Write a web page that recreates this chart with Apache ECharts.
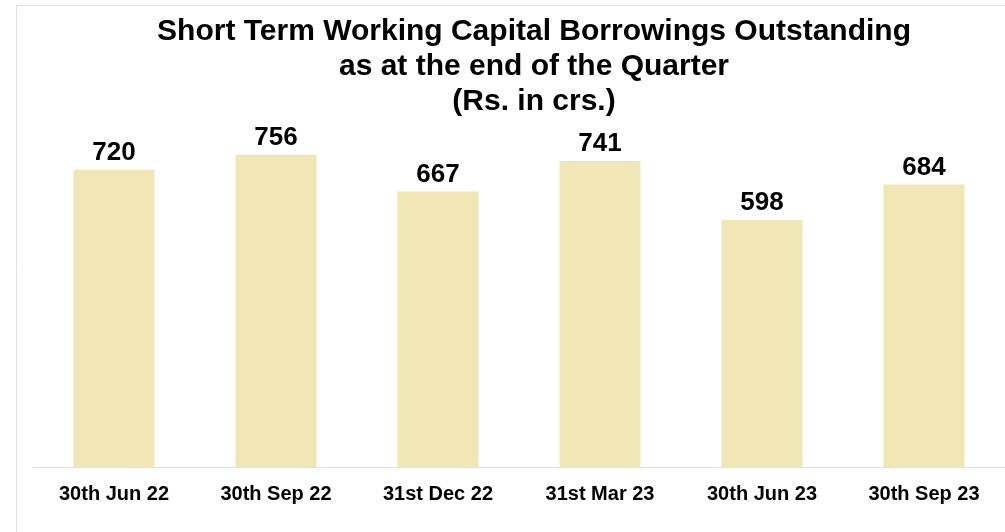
<!DOCTYPE html>
<html>
<head>
<meta charset="utf-8">
<title>Short Term Working Capital Borrowings</title>
<script src="https://cdn.jsdelivr.net/npm/echarts@6/dist/echarts.min.js"></script>
<style>
  html, body { margin: 0; padding: 0; background: #fff; }
  #chart { width: 1005px; height: 532px; }
</style>
</head>
<body>
<div id="chart"></div>
<script>
const quarters = ["30th Jun 22", "30th Sep 22", "31st Dec 22", "31st Mar 23", "30th Jun 23", "30th Sep 23"];
const borrowings = [720, 756, 667, 741, 598, 684];
const titleLines = [
  "Short Term Working Capital Borrowings Outstanding",
  "as at the end of the Quarter",
  "(Rs. in crs.)",
];

const font = '"Liberation Sans", Arial, sans-serif';
const chart = echarts.init(document.getElementById("chart"));

chart.setOption({
  animation: false,
  backgroundColor: "#fff",
  title: {
    text: titleLines.join("\n"),
    left: 534,
    top: 14,
    padding: 0,
    textAlign: "center",
    textStyle: {
      fontFamily: font,
      fontSize: 30,
      fontWeight: "bold",
      color: "#000",
      lineHeight: 35,
    },
  },
  // light frame round the slide area
  graphic: [
    {
      type: "rect",
      shape: { x: 16.5, y: 5.5, width: 1100, height: 600 },
      style: { fill: "none", stroke: "#dde2ea", lineWidth: 1 },
      silent: true,
    },
  ],
  grid: { left: 33, top: 54, width: 974, bottom: 65 },
  xAxis: {
    type: "category",
    data: quarters,
    axisTick: { show: false },
    axisLine: { lineStyle: { color: "#dde2ea", width: 1 } },
    axisLabel: {
      interval: 0,
      margin: 17,
      fontFamily: font,
      fontSize: 20,
      fontWeight: "bold",
      color: "#000",
    },
  },
  yAxis: {
    type: "value",
    min: 0,
    max: 1000,
    show: false,
    splitLine: { show: false },
  },
  series: [
    {
      type: "bar",
      data: borrowings,
      barWidth: "50%",
      itemStyle: { color: "#f0e6b6" },
      label: {
        show: true,
        position: "top",
        distance: 4,
        fontFamily: font,
        fontSize: 26,
        fontWeight: "bold",
        color: "#000",
      },
    },
  ],
});
</script>
</body>
</html>
